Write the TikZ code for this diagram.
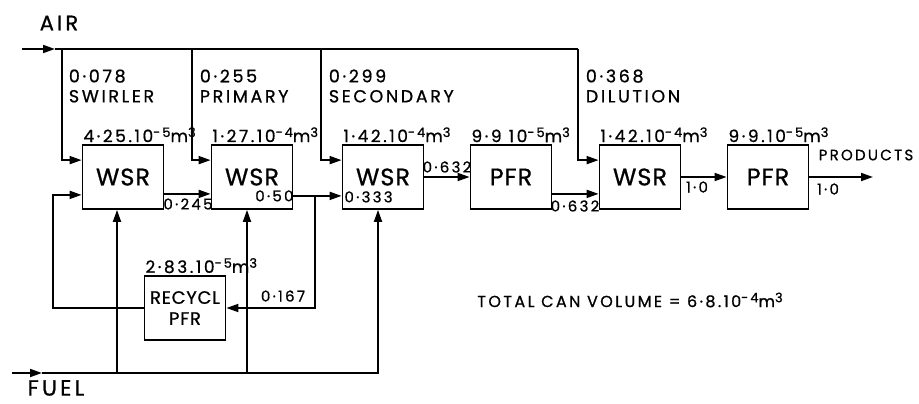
\documentclass[tikz,border=0pt]{standalone}
\usepackage{fontspec}
\setmainfont{Poppins}[LetterSpace=15,FakeBold=0.8]
\newfontfamily\boxfont{Poppins}[LetterSpace=4,FakeBold=0.8]
\usetikzlibrary{arrows.meta}
\newcommand\pw[1]{\raisebox{.55ex}{\fontsize{13}{13}\selectfont#1}}

\begin{document}
\begin{tikzpicture}[x=1pt,y=-1pt,>={Triangle[length=12pt,width=8pt]},line width=1.8pt,
  box/.style={draw,minimum width=81pt,minimum height=64pt,inner sep=0pt,font=\boxfont\fontsize{24}{24}\selectfont},
  vol/.style={anchor=south west,inner sep=1pt,font=\fontsize{17}{17}\selectfont},
  flow/.style={inner sep=0pt,font=\fontsize{15}{15}\selectfont},
  tag/.style={anchor=west,align=left,inner sep=0pt,font=\fontsize{17.5}{20}\selectfont}]
  \useasboundingbox (0,0) rectangle (919,404);
  \node[box] (wsrA) at (123,177) {WSR};
  \node[box] (wsrB) at (252,177) {WSR};
  \node[box] (wsrC) at (383,177) {WSR};
  \node[box] (pfrA) at (511,177) {PFR};
  \node[box] (wsrD) at (640,177) {WSR};
  \node[box] (pfrB) at (768,177) {PFR};
  \node[box,align=center,font=\boxfont\fontsize{18}{21}\selectfont] (recyc) at (185,308) {RECYCL\\PFR};
  \node[vol] (volA) at (wsrA.north west) {4·25.10\pw{-5}m\pw{3}};
  \node[vol] (volB) at (wsrB.north west) {1·27.10\pw{-4}m\pw{3}};
  \node[vol] (volC) at (wsrC.north west) {1·42.10\pw{-4}m\pw{3}};
  \node[vol] (volD) at (pfrA.north west) {9·9 10\pw{-5}m\pw{3}};
  \node[vol] (volE) at (wsrD.north west) {1·42.10\pw{-4}m\pw{3}};
  \node[vol] (volF) at (pfrB.north west) {9·9.10\pw{-5}m\pw{3}};
  \node[vol] (volR) at (recyc.north west) {2·83.10\pw{-5}m\pw{3}};
  \node[font=\fontsize{21}{21}\selectfont] (air) at (59,23) {AIR};
  \node[font=\fontsize{22}{22}\selectfont] (fuel) at (56,388) {FUEL};
  \coordinate (airin) at (22,49);
  \coordinate (airtip) at (55,49);
  \coordinate (airA) at (62,49);
  \coordinate (airB) at (192,49);
  \coordinate (airC) at (321,49);
  \coordinate (airD) at (578,49);
  \draw[->] (airin) -- (airtip);
  \draw (airtip) -- (airD);
  \draw[->] (airA) |- ([yshift=-16pt]wsrA.north west);
  \draw[->] (airB) |- ([yshift=-16pt]wsrB.north west);
  \draw[->] (airC) |- ([yshift=-16pt]wsrC.north west);
  \draw[->] (airD) |- ([yshift=-16pt]wsrD.north west);
  \node[tag] (tagA) at (68,86) {0·078\\SWIRLER};
  \node[tag] (tagB) at (199,86) {0·255\\PRIMARY};
  \node[tag] (tagC) at (328,86) {0·299\\SECONDARY};
  \node[tag] (tagD) at (585,86) {0·368\\DILUTION};
  \coordinate (fuelin) at (12,373);
  \coordinate (fueltip) at (42,373);
  \coordinate (fuelA) at (117,373);
  \coordinate (fuelB) at (247,373);
  \coordinate (fuelC) at (378,373);
  \draw[->] (fuelin) -- (fueltip);
  \draw[->] (fueltip) -- (fuelC) -- (fuelC |- wsrC.south);
  \draw[->] (fuelA) -- (fuelA |- wsrA.south);
  \draw[->] (fuelB) -- (fuelB |- wsrB.south);
  \draw[->] ([yshift=16pt]wsrA.south east) -- ([yshift=16pt]wsrB.south west);
  \node[flow] (fAB) at (188,204) {0·245};
  \draw[->] ([yshift=14pt]wsrB.south east) -- ([yshift=14pt]wsrC.south west);
  \node[flow,anchor=east] (fB) at ([xshift=1pt,yshift=14pt]wsrB.south east) {0·50};
  \node[flow,anchor=west] (fC) at ([xshift=2pt,yshift=13pt]wsrC.south west) {0·333};
  \coordinate (split) at (315,195);
  \coordinate (loop) at (53,250);
  \draw[->] (split) |- (recyc.east);
  \node[flow] (fR) at (283,296) {0·167};
  \draw[->] (recyc.west) -| (loop) |- ([yshift=15pt]wsrA.south west);
  \draw[->] (wsrC.east) -- (pfrA.west);
  \node[flow] (fCP) at (447,167) {0·632};
  \draw[->] ([yshift=16pt]pfrA.south east) -- ([yshift=16pt]wsrD.south west);
  \node[flow] (fPD) at (575,206) {0·632};
  \draw[->] (wsrD.east) -- (pfrB.west);
  \node[flow] (fDP) at (697,187) {1·0};
  \coordinate (out) at (873,177);
  \draw[->] (pfrB.east) -- (out);
  \node[font=\fontsize{15}{15}\selectfont] (prod) at (866,155) {PRODUCTS};
  \node[flow] (fout) at (828,189) {1·0};
  \node[font=\fontsize{16}{16}\selectfont] (total) at (630,300) {TOTAL CAN VOLUME = 6·8.10\pw{-4}m\pw{3}};
\end{tikzpicture}
\end{document}
